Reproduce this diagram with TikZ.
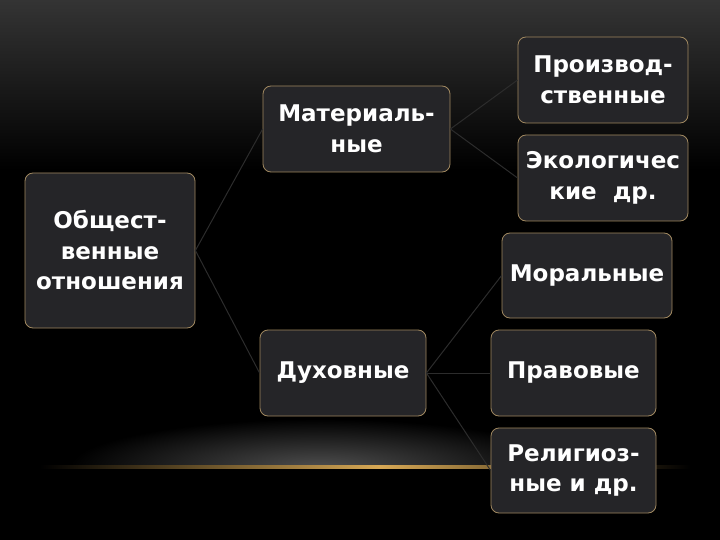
\documentclass[tikz,border=0pt]{standalone}
\usepackage{fontspec}
\setmainfont{DejaVu Sans}
\usepackage{tikz}
\usetikzlibrary{arrows,shapes,positioning}
\usepackage{xcolor}
\definecolor{bgtop}{RGB}{52,52,52}
\definecolor{boxfill}{RGB}{37,37,40}
\definecolor{boxline}{RGB}{160,136,96}
\definecolor{linkgray}{RGB}{44,44,44}
\definecolor{glowgold}{RGB}{215,168,85}
\definecolor{glowgray}{RGB}{78,78,78}
\tikzstyle{box} = [draw=boxline, line width=0.8pt, fill=boxfill, rounded corners=8pt, text=white, align=center, font=\fontsize{23}{30.5}\selectfont\bfseries, inner sep=0pt]
\tikzstyle{link} = [linkgray, line width=1pt]

\begin{document}
\begin{tikzpicture}[x=1pt, y=-1pt]
% Background
\fill[black] (0,0) rectangle (720,540);
\useasboundingbox (0,0) rectangle (720,540);
\shade[top color=bgtop, bottom color=black] (0,0) rectangle (720,170);

% Glow at the bottom
\begin{scope}
\clip (0,380) rectangle (720,467);
\shade[inner color=glowgray, outer color=black] (320,467) ellipse (250 and 48);
\end{scope}
\shade[left color=black, right color=glowgold] (40,465.5) rectangle (380,468.5);
\shade[left color=glowgold, right color=black] (380,465.5) rectangle (690,468.5);

% Boxes
\node[box, minimum width=170, minimum height=155] (soc) at (110,250.5) {Общест-\\венные\\отношения};
\node[box, minimum width=187, minimum height=86] (mat) at (356.5,129) {Материаль-\\ные};
\node[box, minimum width=166, minimum height=86] (duh) at (343,373) {Духовные};
\node[box, minimum width=170, minimum height=86] (prod) at (603,80) {Производ-\\ственные};
\node[box, minimum width=170, minimum height=86] (eco) at (603,178) {Экологичес\\кие~~др.};
\node[box, minimum width=170, minimum height=85] (mor) at (587,275.5) {Моральные};
\node[box, minimum width=165, minimum height=86] (prav) at (573.5,373) {Правовые};
\node[box, minimum width=165, minimum height=85] (rel) at (573.5,470.5) {Религиоз-\\ные и др.};

% Links
\draw[link] (soc.east) -- (mat.west);
\draw[link] (soc.east) -- (duh.west);
\draw[link] (mat.east) -- (prod.west);
\draw[link] (mat.east) -- (eco.west);
\draw[link] (duh.east) -- (mor.west);
\draw[link] (duh.east) -- (prav.west);
\draw[link] (duh.east) -- (rel.west);
\end{tikzpicture}
\end{document}
